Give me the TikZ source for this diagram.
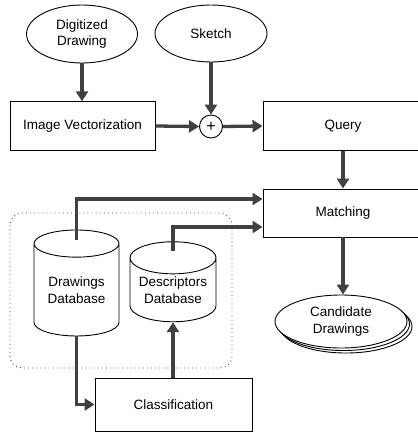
\documentclass[tikz,border=0pt]{standalone}
\usepackage{fontspec}
\setmainfont{Liberation Sans}
\usetikzlibrary{shapes.geometric,arrows.meta,shadows}
\begin{document}
\begin{tikzpicture}[x=1pt,y=-1pt,
box/.style={draw,line width=0.9pt,inner sep=0pt,font=\fontsize{13.5}{16.5}\selectfont,align=center},
blob/.style={box,ellipse},
store/.style={box,cylinder,shape border rotate=90,aspect=0.47,fill=white},
flow/.style={line width=3.3pt,draw=black!75,-{Triangle[length=10pt,width=12pt,fill=black!75]}}]
\useasboundingbox (0,0) rectangle (418,432);
\draw [line width=0.9pt,dash pattern=on 0.9pt off 3.2pt,draw=black!70,rounded corners=12pt] (10,213) rectangle (232,368);
\node[blob,minimum width=111,minimum height=58] (dig) at (82,34) {Digitized\\Drawing};
\node[blob,minimum width=112,minimum height=57] (sketch) at (211,33.5) {Sketch};
\node[box,minimum width=145,minimum height=48.5] (vec) at (82.5,126) {Image Vectorization};
\node[draw,circle,line width=0.9pt,minimum size=23,inner sep=0pt,font=\fontsize{16}{16}\selectfont] (plus) at (211,126.5) {+};
\node[box,minimum width=160,minimum height=48.5] (query) at (343,126) {Query};
\node[box,minimum width=160,minimum height=48] (match) at (343,213) {Matching};
\node[store,minimum width=85,minimum height=106] (draws) at (76.5,290) {Drawings\\Database};
\node[store,minimum width=86,minimum height=80] (descs) at (173,290) {Descriptors\\Database};
\node[box,minimum width=157,minimum height=53] (cls) at (173.5,404.5) {Classification};
\node[blob,fill=white,minimum width=132,minimum height=53,double copy shadow={shadow xshift=2.5pt,shadow yshift=-2.5pt}] (cand) at (341,321.5) {Candidate\\Drawings};
\draw [flow] (dig.south) -- (dig.south |- vec.north);
\draw [flow] (sketch.south) -- (plus.north);
\draw [flow] (vec.east) -- (plus.west);
\draw [flow] (plus.east) -- (query.west);
\draw [flow] (query.south) -- (match.north);
\draw [flow] (match.south) -- (match.south |- cand.north);
\draw [flow] ([yshift=-10pt]draws.north) |- ([yshift=14pt]match.west);
\draw [flow] ([yshift=-10pt]descs.north) |- ([yshift=-14pt]match.west);
\draw [flow] (draws.south) |- (cls.west);
\draw [flow] (cls.north -| descs.south) -- (descs.south);
\end{tikzpicture}
\end{document}
